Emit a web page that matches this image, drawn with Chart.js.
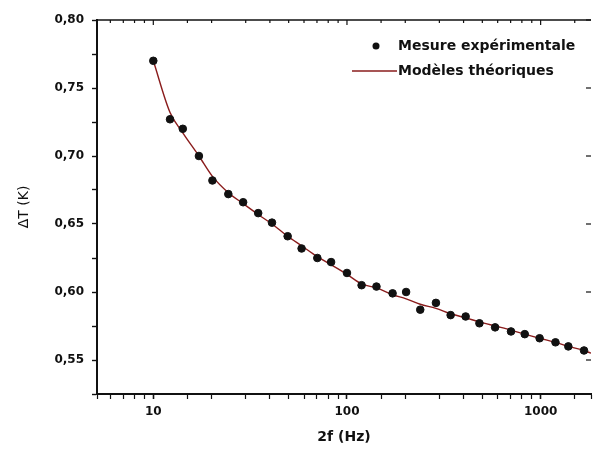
<!DOCTYPE html>
<html>
<head>
<meta charset="utf-8">
<script src="https://cdn.jsdelivr.net/npm/chart.js@4/dist/chart.umd.min.js"></script>
<style>
  html, body { margin: 0; padding: 0; background: #fff; }
  #wrap { width: 597px; height: 449px; }
</style>
</head>
<body>
<div id="wrap"><canvas id="chart"></canvas></div>
<script>
// frequency 2f (Hz)
const freqs = [10, 12.2, 14.2, 17.2, 20.2, 24.4, 29.1, 34.8, 41, 49.4, 58.3, 70.3, 82.8, 100,
    119, 142, 172, 202, 239, 288, 343, 410, 483, 582, 703, 828, 988, 1193, 1390, 1675];
// measured Delta T (K)
const measured = [0.770, 0.727, 0.720, 0.700, 0.682, 0.672, 0.666, 0.658, 0.651, 0.641,
    0.632, 0.625, 0.622, 0.614, 0.605, 0.604, 0.599, 0.600, 0.587, 0.592,
    0.583, 0.582, 0.577, 0.574, 0.571, 0.569, 0.566, 0.563, 0.560, 0.557];
// theoretical model
const modelFreqs = [10, 12.2, 14.2, 17.2, 20.2, 24.4, 29.1, 34.8, 41, 49.4, 58.3, 70.3, 82.8, 100,
    119, 142, 172, 202, 239, 288, 343, 410, 483, 582, 703, 828, 988, 1193, 1390, 1675, 1820];
const model = [0.770, 0.732, 0.717, 0.700, 0.685, 0.673, 0.665, 0.657, 0.650, 0.641,
    0.634, 0.626, 0.620, 0.613, 0.606, 0.603, 0.598, 0.595, 0.591, 0.588,
    0.584, 0.581, 0.578, 0.575, 0.572, 0.569, 0.566, 0.563, 0.560, 0.557, 0.555];
const xLabels = [10, 100, 1000];
const yMajor = [0.55, 0.60, 0.65, 0.70, 0.75, 0.80];

const labelFont = { family: 'DejaVu Sans', size: 12, weight: 'bold' };

function fmtY(v) {
    return v.toFixed(2).replace('.', ',');
}

function isMajorY(v) {
    return yMajor.some(m => Math.abs(m - v) < 1e-6);
}

// top frame, right-edge ticks and legend
const framePlugin = {
    id: 'frame',
    afterDraw(chart) {
        const ctx = chart.ctx;
        const area = chart.chartArea;
        const xs = chart.scales.x;
        const ys = chart.scales.y;
        ctx.save();
        ctx.strokeStyle = '#111';
        ctx.lineWidth = 1.5;
        ctx.beginPath();
        ctx.moveTo(area.left, area.top);
        ctx.lineTo(area.right, area.top);
        ctx.stroke();
        ctx.lineWidth = 1.2;
        xs.ticks.forEach(t => {
            if (t.value <= xs.min || t.value >= xs.max) return;
            const x = xs.getPixelForValue(t.value);
            const len = xLabels.includes(t.value) ? 5 : 3;
            ctx.beginPath();
            ctx.moveTo(x, area.top);
            ctx.lineTo(x, area.top + len);
            ctx.stroke();
        });
        yMajor.forEach(v => {
            const y = ys.getPixelForValue(v);
            ctx.beginPath();
            ctx.moveTo(area.right - 5, y);
            ctx.lineTo(area.right, y);
            ctx.stroke();
        });

        // legend
        ctx.font = 'bold 14px "DejaVu Sans"';
        ctx.fillStyle = '#111';
        ctx.textBaseline = 'middle';
        ctx.textAlign = 'left';
        ctx.beginPath();
        ctx.arc(376, 46, 3.5, 0, Math.PI * 2);
        ctx.fill();
        ctx.fillText(chart.data.datasets[0].label, 398, 46);
        ctx.strokeStyle = chart.data.datasets[1].borderColor;
        ctx.lineWidth = 1.5;
        ctx.beginPath();
        ctx.moveTo(352, 71);
        ctx.lineTo(397, 71);
        ctx.stroke();
        ctx.fillText(chart.data.datasets[1].label, 398, 71);
        ctx.restore();
    }
};

new Chart(document.getElementById('chart'), {
    type: 'scatter',
    data: {
        datasets: [{
            label: 'Mesure expérimentale',
            data: freqs.map((f, i) => ({ x: f, y: measured[i] })),
            backgroundColor: '#111',
            borderColor: '#111',
            pointRadius: 3.8,
            pointHoverRadius: 3.8,
            order: 1
        }, {
            label: 'Modèles théoriques',
            data: modelFreqs.map((f, i) => ({ x: f, y: model[i] })),
            showLine: true,
            borderColor: '#8a1c1c',
            borderWidth: 1.4,
            pointRadius: 0,
            cubicInterpolationMode: 'monotone',
            order: 2
        }]
    },
    options: {
        responsive: true,
        maintainAspectRatio: false,
        animation: false,
        layout: { padding: { top: 20, right: 0, left: 0, bottom: 0 } },
        plugins: {
            legend: { display: false },
            tooltip: { enabled: false }
        },
        scales: {
            x: {
                type: 'logarithmic',
                min: 5.12,
                max: 1820,
                afterFit(scale) { scale.height = 55; },
                border: { display: true, color: '#111', width: 2 },
                grid: {
                    drawOnChartArea: false,
                    tickLength: 5,
                    tickColor: '#111',
                    tickWidth: ctx => xLabels.includes(ctx.tick && ctx.tick.value) ? 1.6 : 1.2
                },
                ticks: {
                    autoSkip: false,
                    maxRotation: 0,
                    padding: 6,
                    color: '#111',
                    font: labelFont,
                    callback: v => xLabels.includes(v) ? String(v) : ''
                },
                title: {
                    display: true,
                    text: '2f (Hz)',
                    color: '#111',
                    font: { family: 'DejaVu Sans', size: 14, weight: 'bold' },
                    padding: { top: 0, bottom: 3 }
                }
            },
            y: {
                min: 0.525,
                max: 0.80,
                afterFit(scale) { scale.width = 97; },
                border: { display: true, color: '#111', width: 2 },
                grid: {
                    drawOnChartArea: false,
                    tickLength: 5,
                    tickColor: '#111',
                    tickWidth: 1.4
                },
                ticks: {
                    stepSize: 0.025,
                    autoSkip: false,
                    padding: 8,
                    color: '#111',
                    font: labelFont,
                    callback: v => isMajorY(v) ? fmtY(v) : ''
                },
                title: {
                    display: true,
                    text: 'ΔT (K)',
                    color: '#111',
                    font: { family: 'DejaVu Sans', size: 14 },
                    padding: { top: 16, bottom: 0 }
                }
            }
        }
    },
    plugins: [framePlugin]
});
</script>
</body>
</html>
